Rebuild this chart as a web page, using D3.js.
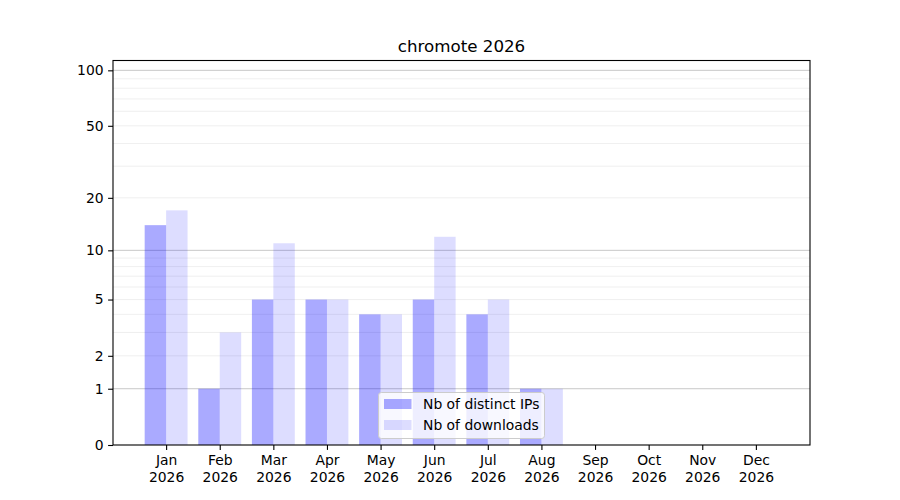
<!DOCTYPE html>
<html><head><meta charset="utf-8">
<script src="https://cdn.jsdelivr.net/npm/d3@7"></script>
<style>body{margin:0;background:#fff}svg{font-family:"DejaVu Sans",sans-serif}</style>
</head><body><svg id="c" width="900" height="500"></svg>
<script>
const months = ["Jan","Feb","Mar","Apr","May","Jun","Jul","Aug","Sep","Oct","Nov","Dec"];
const year = "2026";
const ips = [14,1,5,5,4,5,4,1,0,0,0,0];
const downloads = [17,3,11,5,4,12,5,1,0,0,0,0];
const yTicks = [0,1,2,5,10,20,50,100];
const majorGrid = [1,10,100];
const minorGrid = [2,3,4,5,6,7,8,9,20,30,40,50,60,70,80,90];
const title = "chromote 2026";
const seriesNames = ["Nb of distinct IPs","Nb of downloads"];

const L=113,R=810,T=60.5,B=445;
const svg=d3.select("#c");
const x=d3.scaleLinear().domain([-1,12]).range([L,R]);
const y=d3.scaleSymlog().constant(1).domain([0,113]).range([B,T]);
const bw=0.4;

// grid
svg.append("g").selectAll("line").data(minorGrid).join("line")
 .attr("x1",L).attr("x2",R).attr("y1",d=>y(d)).attr("y2",d=>y(d))
 .attr("stroke","#ebebeb").attr("stroke-width",0.8);
svg.append("g").selectAll("line").data(majorGrid).join("line")
 .attr("x1",L).attr("x2",R).attr("y1",d=>y(d)).attr("y2",d=>y(d))
 .attr("stroke","#c8c8c8").attr("stroke-width",1);

// bars
svg.append("g").selectAll("rect").data(ips).join("rect")
 .attr("x",(d,i)=>x(i-bw)-0.5).attr("width",(d,i)=>x(i)-x(i-bw))
 .attr("y",d=>y(d)).attr("height",d=>B-y(d))
 .attr("fill","blue").attr("fill-opacity",0.335);
svg.append("g").selectAll("rect").data(downloads).join("rect")
 .attr("x",(d,i)=>x(i)-0.5).attr("width",(d,i)=>x(i+bw)-x(i))
 .attr("y",d=>y(d)).attr("height",d=>B-y(d))
 .attr("fill","blue").attr("fill-opacity",0.135);

// axes
const xa=svg.append("g").attr("transform",`translate(-0.5,${B})`)
 .call(d3.axisBottom(x).tickValues(d3.range(12)).tickSize(4.9).tickPadding(5).tickFormat(()=>""));
xa.selectAll(".tick text").each(function(d){
  const t=d3.select(this);
  t.append("tspan").attr("x",0).attr("dy","0.76em").text(months[d]);
  t.append("tspan").attr("x",0).attr("dy","1.17em").text(year);
});
const ya=svg.append("g").attr("transform",`translate(${L},0)`)
 .call(d3.axisLeft(y).tickValues(yTicks).tickSize(4.9).tickPadding(4.5).tickFormat(d3.format("d")));
[xa,ya].forEach(a=>{a.select(".domain").remove();
 a.selectAll(".tick line").attr("stroke","#000").attr("stroke-width",1.1);
 a.selectAll(".tick text").attr("font-size",13.9).attr("fill","#000").attr("font-family","DejaVu Sans");});
svg.append("rect").attr("x",L).attr("y",T).attr("width",R-L).attr("height",B-T)
 .attr("fill","none").attr("stroke","#000").attr("stroke-width",1.1);

svg.append("text").attr("x",(L+R)/2).attr("y",T-8.5).attr("text-anchor","middle")
 .attr("font-size",16.7).text(title);

// legend
const lg=svg.append("g");
lg.append("rect").attr("x",378.5).attr("y",392.5).attr("width",166).attr("height",46)
 .attr("rx",2.8).attr("fill","#fff").attr("fill-opacity",0.8).attr("stroke","#ccc").attr("stroke-width",1);
const op=[0.335,0.135];
seriesNames.forEach((n,i)=>{
  lg.append("rect").attr("x",384).attr("y",399+i*21).attr("width",27.5).attr("height",10)
   .attr("fill","blue").attr("fill-opacity",op[i]);
  lg.append("text").attr("x",423).attr("y",409+i*21).attr("font-size",13.9).text(n);
});
</script></body></html>
